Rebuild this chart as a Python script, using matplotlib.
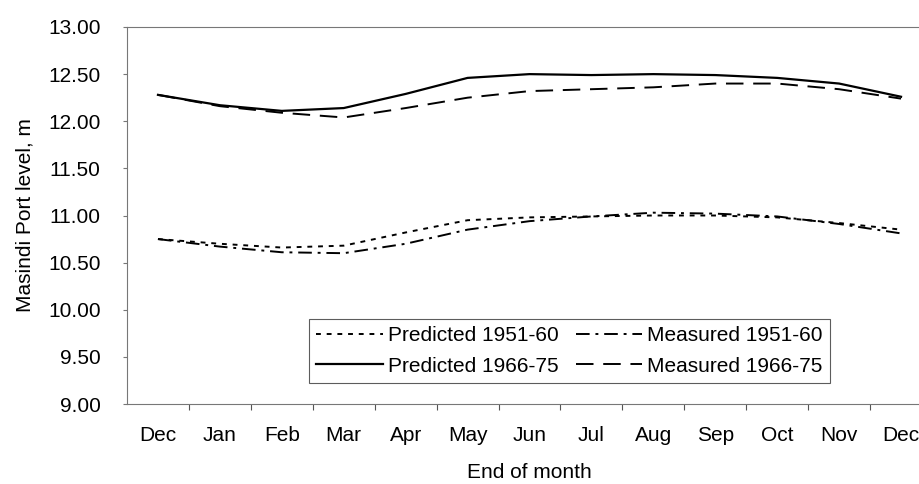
import numpy as np
from matplotlib import pyplot as plt

plt.rcParams['font.family'] = ['Liberation Sans', 'DejaVu Sans']

months = ['Dec', 'Jan', 'Feb', 'Mar', 'Apr', 'May', 'Jun',
          'Jul', 'Aug', 'Sep', 'Oct', 'Nov', 'Dec']

pred_1951 = [10.75, 10.70, 10.66, 10.68, 10.82, 10.95, 10.98,
             10.99, 11.00, 11.00, 10.98, 10.92, 10.85]
meas_1951 = [10.75, 10.67, 10.61, 10.60, 10.70, 10.85, 10.94,
             10.99, 11.03, 11.02, 10.99, 10.91, 10.81]
pred_1966 = [12.28, 12.17, 12.11, 12.14, 12.29, 12.46, 12.50,
             12.49, 12.50, 12.49, 12.46, 12.40, 12.26]
meas_1966 = [12.28, 12.16, 12.09, 12.04, 12.14, 12.25, 12.32,
             12.34, 12.36, 12.40, 12.40, 12.34, 12.24]

y_ticks = [9.0, 9.5, 10.0, 10.5, 11.0, 11.5, 12.0, 12.5, 13.0]

fs = 15

fig = plt.figure(figsize=(9.2, 4.84), dpi=100)
ax = fig.add_axes([127 / 920, 1 - 404 / 484, 805 / 920, 377 / 484])

x = np.arange(len(months))
ax.plot(x, pred_1951, color='black', lw=1.4, linestyle=(0, (2.5, 3)),
        label='Predicted 1951-60')
ax.plot(x, meas_1951, color='black', lw=1.4, linestyle=(0, (7, 3, 1.5, 3)),
        label='Measured 1951-60')
ax.plot(x, pred_1966, color='black', lw=1.6, linestyle='-',
        label='Predicted 1966-75')
ax.plot(x, meas_1966, color='black', lw=1.4, linestyle=(0, (9, 5)),
        label='Measured 1966-75')

ax.set_xlim(-0.5, len(months) - 0.5)
ax.set_ylim(9, 13)
ax.set_yticks(y_ticks)
ax.set_yticklabels(['%.2f' % v for v in y_ticks])

# category labels centred, tick marks on the boundaries
ax.set_xticks(x[:-1] + 0.5)
ax.set_xticklabels([])
ax.set_xticks(x, minor=True)
ax.set_xticklabels(months, minor=True)
ax.tick_params(axis='x', which='major', direction='out', length=4,
               color='#555555', width=0.8)
ax.tick_params(axis='x', which='minor', length=0, pad=16, labelsize=fs)
ax.tick_params(axis='y', direction='out', length=3, color='#777777',
               width=0.8, pad=16, labelsize=fs)

for side in ['left', 'bottom', 'top']:
    ax.spines[side].set_color('#777777')
    ax.spines[side].set_linewidth(0.8)
ax.spines['right'].set_visible(False)

ax.set_ylabel('Masindi Port level, m', fontsize=fs, labelpad=10)
ax.set_xlabel('End of month', fontsize=fs, labelpad=13)

handles, labels = ax.get_legend_handles_labels()
order = [0, 2, 1, 3]
leg = ax.legend([handles[i] for i in order], [labels[i] for i in order],
                ncol=2, loc='lower left',
                bbox_to_anchor=(309 / 920, 1 - 383 / 484),
                bbox_transform=fig.transFigure,
                fontsize=fs, handlelength=3.2, handletextpad=0.25,
                columnspacing=0.8, labelspacing=0.55, borderpad=0.35,
                borderaxespad=0, fancybox=False, frameon=True)
leg.get_frame().set_edgecolor('#333333')
leg.get_frame().set_linewidth(0.8)

fig.savefig('out.png', dpi=100)
